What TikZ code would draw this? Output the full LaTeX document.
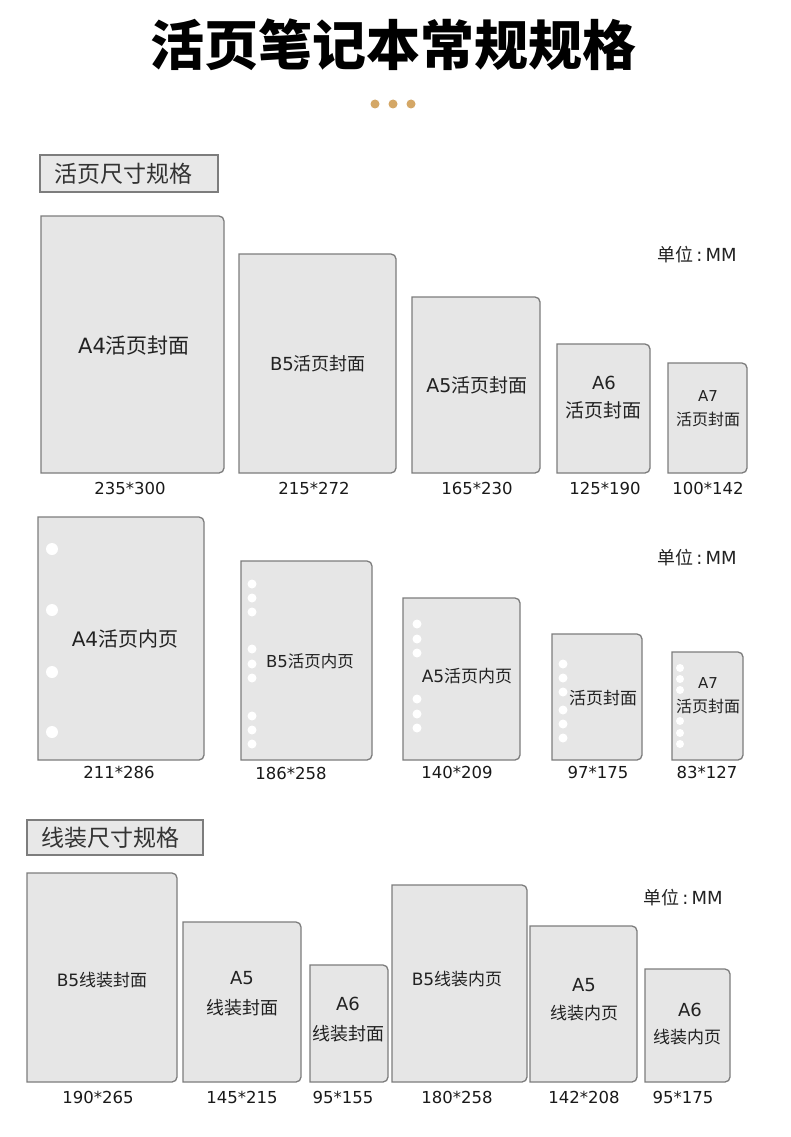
\documentclass[tikz,border=0pt]{standalone}
\usepackage{fontspec}
\setmainfont{DejaVu Sans}
\newfontfamily\cjk{Noto Sans CJK SC}
\definecolor{cardfill}{HTML}{E6E6E6}
\definecolor{cardline}{HTML}{7D7D7D}
\definecolor{headfill}{HTML}{E8E8E8}
\definecolor{gold}{HTML}{D4A766}
\definecolor{txt}{HTML}{222222}
\newcommand\fsz[1]{\fontsize{#1}{#1}\selectfont}
% name, x1, ytop, x2, ybottom  (pixel coordinates, y downwards)
\newcommand\card[5]{%
  \draw[card] (#2,-#5) -- (#2,-#3) -- ({#4-5},-#3) arc[start angle=90,end angle=0,radius=5pt]
     -- (#4,{-#5+5}) arc[start angle=0,end angle=-90,radius=5pt] -- cycle;
  \coordinate (#1) at ({(#2+#4)/2},{-(#3+#5)/2});
}
\newcommand\holes[3]{% x, radius, list of y
  \foreach \yy in {#3} {\fill[white] (#1,-\yy) circle[radius=#2pt];}
}
\tikzset{
  card/.style={fill=cardfill,draw=cardline,line width=1.3pt},
  lab/.style={text=txt,inner sep=0pt},
  dimtext/.style={text=black!90,inner sep=0pt,font=\fsz{16.5}},
  unit/.style={text=txt,inner sep=0pt,font=\fsz{18}},
  head/.style={fill=headfill,draw=cardline,line width=1.5pt},
  headtext/.style={text=black!80,inner sep=0pt,font={\cjk\fsz{23}}}
}
\begin{document}
\begin{tikzpicture}[x=1pt,y=1pt]
\fill[white] (0,0) rectangle (790,-1137);
\useasboundingbox (0,0) rectangle (790,-1137);

% title
\node[inner sep=0pt,font={\cjk\bfseries\fsz{54}}] (title) at (393,-45) {活页笔记本常规规格};
\fill[gold] (375,-104) circle[radius=4.5pt];
\fill[gold] (393,-104) circle[radius=4.5pt];
\fill[gold] (411,-104) circle[radius=4.5pt];

% section 1 header
\draw[head] (40,-155) rectangle (218,-192);
\node[headtext] (h1) at (123,-174) {活页尺寸规格};

% row 1 covers
\card{c1}{41}{216}{224}{473}
\node[lab,font={\fsz{21}}] (l1) at (134,-346) {A4\cjk 活页封面};
\node[dimtext] (d1) at (130,-488) {235*300};

\card{c2}{239}{254}{396}{473}
\node[lab,font={\fsz{18}}] (l2) at (318,-364) {B5\cjk 活页封面};
\node[dimtext] (d2) at (314,-488) {215*272};

\card{c3}{412}{297}{540}{473}
\node[lab,font={\fsz{19}}] (l3) at (477,-385) {A5\cjk 活页封面};
\node[dimtext] (d3) at (477,-488) {165*230};

\card{c4}{557}{344}{650}{473}
\node[lab,font={\fsz{18}}] (l4a) at (604,-383) {A6};
\node[lab,font={\cjk\fsz{19}}] (l4b) at (603,-410) {活页封面};
\node[dimtext] (d4) at (605,-488) {125*190};

\card{c5}{668}{363}{747}{473}
\node[lab,font={\fsz{15}}] (l5a) at (708,-396) {A7};
\node[lab,font={\cjk\fsz{16}}] (l5b) at (708,-419) {活页封面};
\node[dimtext] (d5) at (708,-488) {100*142};

\node[unit] (u1) at (697,-255) {\cjk 单位\rmfamily\,:\,MM};

% row 2 inner pages
\card{p1}{38}{517}{204}{760}
\holes{52}{6}{549,610,672,732}
\node[lab,font={\fsz{20}}] (m1) at (125,-639) {A4\cjk 活页内页};
\node[dimtext] (e1) at (119,-772) {211*286};

\card{p2}{241}{561}{372}{760}
\holes{252}{4.5}{584,598,612,649,664,678,716,730,744}
\node[lab,font={\fsz{16.5}}] (m2) at (310,-661) {B5\cjk 活页内页};
\node[dimtext] (e2) at (291,-773) {186*258};

\card{p3}{403}{598}{520}{760}
\holes{417}{4.5}{624,639,653,699,714,728}
\node[lab,font={\fsz{17}}] (m3) at (467,-676) {A5\cjk 活页内页};
\node[dimtext] (e3) at (457,-772) {140*209};

\card{p4}{552}{634}{642}{760}
\holes{563}{4.5}{664,678,692,710,724,738}
\node[lab,font={\cjk\fsz{17}}] (m4) at (603,-698) {活页封面};
\node[dimtext] (e4) at (598,-772) {97*175};

\card{p5}{672}{652}{743}{760}
\holes{680}{4}{668,679,690,721,733,744}
\node[lab,font={\fsz{15}}] (m5a) at (708,-683) {A7};
\node[lab,font={\cjk\fsz{16}}] (m5b) at (708,-706) {活页封面};
\node[dimtext] (e5) at (707,-772) {83*127};

\node[unit] (u2) at (697,-558) {\cjk 单位\rmfamily\,:\,MM};

% section 2 header
\draw[head] (27,-820) rectangle (203,-855);
\node[headtext] (h2) at (110,-838) {线装尺寸规格};

% row 3 thread-bound
\card{t1}{27}{873}{177}{1082}
\node[lab,font={\fsz{17}}] (n1) at (102,-980) {B5\cjk 线装封面};
\node[dimtext] (f1) at (98,-1097) {190*265};

\card{t2}{183}{922}{301}{1082}
\node[lab,font={\fsz{18}}] (n2a) at (242,-978) {A5};
\node[lab,font={\cjk\fsz{18}}] (n2b) at (242,-1008) {线装封面};
\node[dimtext] (f2) at (242,-1097) {145*215};

\card{t3}{310}{965}{388}{1082}
\node[lab,font={\fsz{18}}] (n3a) at (348,-1004) {A6};
\node[lab,font={\cjk\fsz{18}}] (n3b) at (348,-1034) {线装封面};
\node[dimtext] (f3) at (343,-1097) {95*155};

\card{t4}{392}{885}{527}{1082}
\node[lab,font={\fsz{17}}] (n4) at (457,-979) {B5\cjk 线装内页};
\node[dimtext] (f4) at (457,-1097) {180*258};

\card{t5}{530}{926}{637}{1082}
\node[lab,font={\fsz{18}}] (n5a) at (584,-985) {A5};
\node[lab,font={\cjk\fsz{17}}] (n5b) at (584,-1013) {线装内页};
\node[dimtext] (f5) at (584,-1097) {142*208};

\card{t6}{645}{969}{730}{1082}
\node[lab,font={\fsz{18}}] (n6a) at (690,-1010) {A6};
\node[lab,font={\cjk\fsz{17}}] (n6b) at (687,-1037) {线装内页};
\node[dimtext] (f6) at (683,-1097) {95*175};

\node[unit] (u3) at (683,-898) {\cjk 单位\rmfamily\,:\,MM};
\end{tikzpicture}
\end{document}
